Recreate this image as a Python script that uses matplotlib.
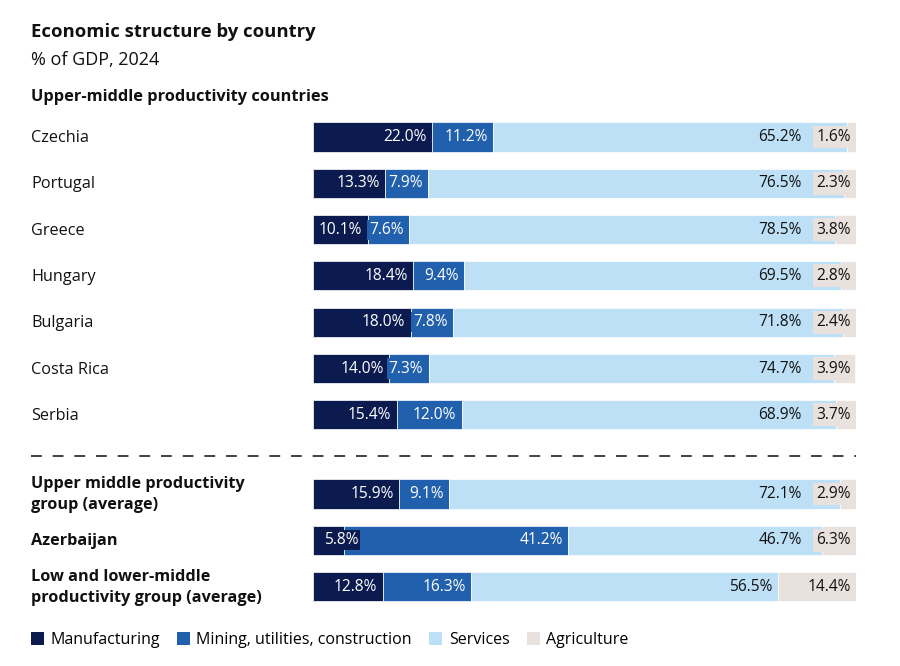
import matplotlib
matplotlib.use("Agg")
import matplotlib.pyplot as plt
from matplotlib.lines import Line2D
from matplotlib.patches import Patch

plt.rcParams["font.family"] = ["Open Sans", "Noto Sans", "DejaVu Sans"]

# %% Data
countries = [
    "Czechia", "Portugal", "Greece", "Hungary", "Bulgaria", "Costa Rica", "Serbia",
    "Upper middle productivity\ngroup (average)", "Azerbaijan",
    "Low and lower-middle\nproductivity group (average)",
]
bold_rows = [False] * 7 + [True] * 3
manufacturing = [22.0, 13.3, 10.1, 18.4, 18.0, 14.0, 15.4, 15.9, 5.8, 12.8]
mining = [11.2, 7.9, 7.6, 9.4, 7.8, 7.3, 12.0, 9.1, 41.2, 16.3]
services = [65.2, 76.5, 78.5, 69.5, 71.8, 74.7, 68.9, 72.1, 46.7, 56.5]
agriculture = [1.6, 2.3, 3.8, 2.8, 2.4, 3.9, 3.7, 2.9, 6.3, 14.4]
series_names = ["Manufacturing", "Mining, utilities, construction", "Services", "Agriculture"]
colors = ["#0b1b4f", "#2160ad", "#bde0f6", "#e9e1de"]
text_colors = ["white", "white", "#111111", "#111111"]

# row positions (group rows pushed down below the dashed separator)
rows = [0, 1, 2, 3, 4, 5, 6, 7.71, 8.71, 9.71]
sep_row = 6.886

# %% Figure
W, H = 900, 666
fig = plt.figure(figsize=(W / 100, H / 100), dpi=100)
px = 46.3  # pixels per row
y0 = 137   # pixel centre of first row
top_px = y0 - 0.5 * px
bot_px = y0 + (rows[-1] + 0.5) * px
ax = fig.add_axes([313 / W, 1 - bot_px / H, 543 / W, (bot_px - top_px) / H])
ax.set_xlim(0, 100)
ax.set_ylim(rows[-1] + 0.5, -0.5)
ax.axis("off")

bar_h = 0.63
data = [manufacturing, mining, services, agriculture]
for i, r in enumerate(rows):
    left = 0
    for k, vals in enumerate(data):
        ax.barh(r, vals[i], left=left, height=bar_h, color=colors[k],
                edgecolor="white", linewidth=0.5)
        left += vals[i]

# value labels
fs = 11.2
pad = 1.0
for i, r in enumerate(rows):
    m, mi, s, a = manufacturing[i], mining[i], services[i], agriculture[i]
    kw = dict(va="center", ha="right", fontsize=fs)
    # manufacturing (label box spills over when the segment is too narrow)
    x_m = max(m, 9.3) - pad
    ax.text(x_m, r, f"{m:.1f}%", color=text_colors[0],
            bbox=dict(facecolor=colors[0], edgecolor="none", pad=1.5), **kw)
    # mining
    ax.text(m + mi - pad, r, f"{mi:.1f}%", color=text_colors[1],
            bbox=dict(facecolor=colors[1], edgecolor="none", pad=1.5), **kw)
    # agriculture, right-aligned at the bar end
    ax.text(100 - 0.9, r, f"{a:.1f}%", color=text_colors[3],
            bbox=dict(facecolor=colors[3], edgecolor="none", pad=2.5), **kw)
    # services, kept left of the agriculture label
    x_s = min(m + mi + s, 100 - 9.0) - pad
    ax.text(x_s, r, f"{s:.1f}%", color=text_colors[2], **kw)

# row labels
for name, r, b in zip(countries, rows, bold_rows):
    yp = 1 - (y0 + 1 + r * px) / H
    fig.text(31 / W, yp, name, ha="left", va="center", fontsize=11.7,
             fontweight="bold" if b else "normal", color="#111111",
             linespacing=1.42)

# dashed separator
ys = 1 - (y0 + sep_row * px) / H
fig.add_artist(Line2D([31 / W, 856 / W], [ys, ys], color="#333333",
                      linewidth=1.3, dashes=(6, 6)))

# titles
fig.text(31 / W, 1 - 32 / H, "Economic structure by country", fontsize=13.3,
         fontweight="bold", va="center", color="#111111")
fig.text(31 / W, 1 - 60 / H, "% of GDP, 2024", fontsize=13, va="center",
         color="#111111")
fig.text(31 / W, 1 - 97 / H, "Upper-middle productivity countries", fontsize=11.75,
         fontweight="bold", va="center", color="#111111")

# legend
handles = [Patch(facecolor=c, edgecolor="none") for c in colors]
fig.legend(handles, series_names, loc="center left",
           bbox_to_anchor=(31 / W, 1 - 640 / H), ncol=4, frameon=False,
           fontsize=11.5, handlelength=0.8, handleheight=0.8, handletextpad=0.4,
           columnspacing=1.1, borderpad=0, borderaxespad=0)

fig.savefig("out.png", dpi=100)
